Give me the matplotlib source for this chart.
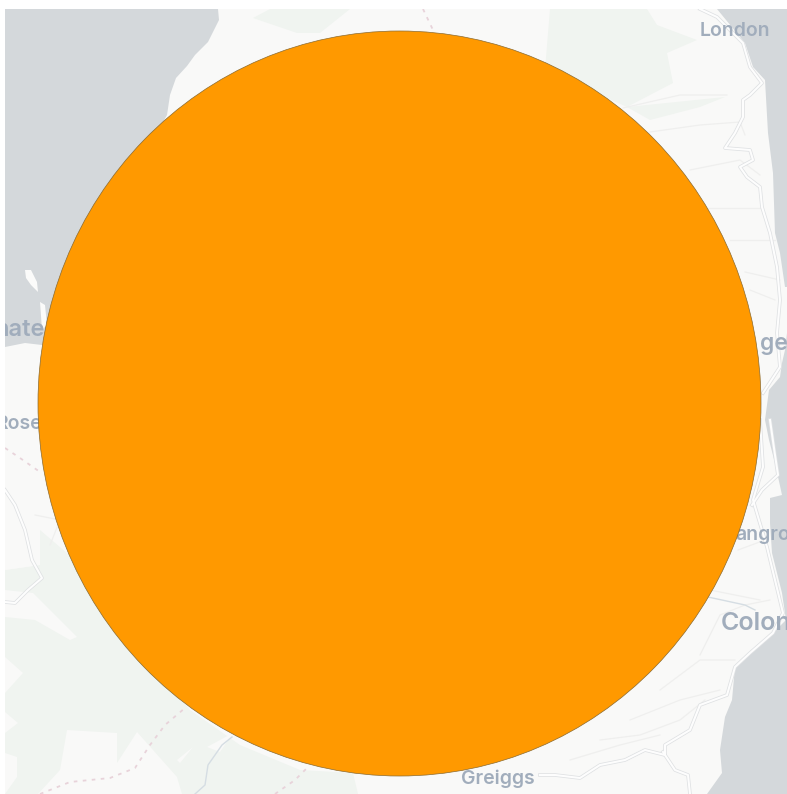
import matplotlib
matplotlib.use("Agg")
import matplotlib.pyplot as plt
from matplotlib.patches import Ellipse, Polygon

W, H = 787, 794
MAP_L, MAP_T = 5, 9

LAND = "#f9f9f8"
SEA = "#d4d8db"
GREEN = "#f0f4f0"
ORANGE = "#ff9900"
LABEL = "#a1adbc"
BORDER = "#e8d3da"

# Marker (reads as an ellipse in pixel space)
circle_center = (399.5, 403.5)
circle_width = 723
circle_height = 745

sea_left = [(5, 9), (218, 9), (219, 20), (208, 42), (195, 55), (187, 66), (176, 78), (170, 95), (167, 115),
            (120, 200), (60, 290), (42, 345), (25, 343), (5, 347)]
sea_right = [(717, 9), (787, 9), (787, 333), (785, 350), (782, 363), (780, 377), (769, 390), (765, 420),
             (769, 440), (775, 463), (782, 495), (770, 498), (770, 523), (772, 553), (782, 593), (786, 620),
             (773, 633), (750, 653), (735, 667), (732, 700), (725, 717), (720, 750), (722, 773), (707, 794),
             (787, 794), (787, 333), (787, 287), (785, 287), (780, 253), (775, 233), (773, 173), (768, 133),
             (765, 80), (753, 67), (745, 43)]
island_a = [(25, 270), (31, 270), (37, 282), (38, 292), (31, 285), (26, 278)]
island_b = [(40, 302), (45, 305), (47, 325), (42, 330)]

greens = [
    [(253, 18), (270, 9), (350, 9), (320, 33), (297, 33)],
    [(550, 9), (647, 9), (657, 25), (697, 40), (667, 53), (673, 83), (627, 107), (545, 70)],
    [(627, 107), (725, 97), (700, 107), (650, 120)],
    [(40, 530), (75, 560), (100, 600), (140, 650), (190, 710), (240, 745), (300, 770), (353, 773), (358, 794),
     (5, 794), (5, 617), (5, 570), (40, 565)],
]
pale = [
    [(33, 593), (77, 637), (70, 640), (35, 620), (5, 617), (5, 590)],
    [(5, 657), (23, 673), (5, 693)],
    [(5, 712), (18, 723), (5, 733)],
    [(5, 753), (17, 757), (17, 777), (5, 794)],
    [(67, 730), (117, 733), (117, 763), (137, 732), (177, 777), (182, 794), (38, 794), (60, 770)],
    [(177, 760), (193, 747), (180, 763)],
    [(207, 747), (233, 733), (220, 752)],
    [(5, 400), (60, 400), (60, 530), (40, 530), (40, 565), (5, 570)],
]

rivers = [
    [(700, 9), (717, 17), (743, 43), (750, 67), (762, 83), (750, 95), (743, 100), (743, 117), (735, 133), (725, 148),
     (750, 150), (753, 160), (740, 167), (747, 177), (760, 187), (762, 207), (770, 233), (777, 267), (780, 300),
     (777, 333), (780, 367), (763, 393)],
    [(760, 420), (763, 467), (753, 500), (767, 547), (783, 613), (773, 633), (750, 653), (735, 667), (727, 695),
     (700, 705), (690, 730), (665, 745), (665, 755), (645, 750), (625, 760), (600, 765), (580, 778), (555, 775), (540, 775)],
    [(770, 420), (775, 455), (778, 475), (762, 490), (752, 505)],
    [(663, 752), (675, 770), (688, 775), (690, 794)],
    [(5, 490), (15, 505), (25, 530), (32, 560), (42, 578), (28, 590), (15, 603), (5, 602)],
]
thin_lines = [
    [(623, 108), (680, 95), (727, 95)], [(650, 132), (700, 125), (740, 122), (745, 135)], [(690, 170), (740, 160), (760, 175)],
    [(705, 208), (760, 208)], [(730, 240), (775, 240)], [(745, 272), (780, 280)], [(750, 290), (775, 300)],
    [(700, 655), (720, 615), (745, 605), (770, 600)], [(660, 690), (700, 660), (735, 660)], [(630, 720), (680, 700), (720, 690)],
    [(600, 740), (640, 735), (680, 720), (705, 700)], [(570, 760), (620, 745), (660, 735)],
    [(710, 590), (760, 600)], [(738, 550), (765, 540)], [(35, 515), (60, 520), (50, 545)],
]
water_lines = [[(195, 794), (205, 785), (208, 765), (222, 745), (232, 737)], [(708, 597), (745, 605), (755, 610)]]
dashed_borders = [
    [(5, 448), (20, 458), (40, 472)],
    [(40, 794), (70, 782), (110, 778), (135, 768), (150, 745), (165, 725), (185, 708)],
    [(275, 794), (295, 780), (307, 768)],
    [(423, 9), (433, 30)],
]

place_names = ["London", "hate", "Rose", "ge", "angro", "Colon", "Greiggs"]
place_x = [770, 45, 42, 788, 790, 791, 535]
place_y = [31, 330, 424, 344, 535, 623, 779]
place_size = [14, 17, 14, 16.5, 14, 18, 14]

fig = plt.figure(figsize=(W / 100, H / 100), dpi=100, facecolor="white")
ax = fig.add_axes([MAP_L / W, 0, (W - MAP_L) / W, (H - MAP_T) / H])
ax.set_xlim(MAP_L, W)
ax.set_ylim(H, MAP_T)
ax.axis("off")
ax.add_patch(Polygon([(MAP_L, MAP_T), (W, MAP_T), (W, H), (MAP_L, H)], fc=LAND, ec="none", zorder=0))

for poly in greens:
    ax.add_patch(Polygon(poly, fc=GREEN, ec="none", zorder=1))
for poly in pale:
    ax.add_patch(Polygon(poly, fc=LAND, ec="none", zorder=1.5))
for poly in (sea_left, sea_right):
    ax.add_patch(Polygon(poly, fc=SEA, ec="none", zorder=2))
for poly in (island_a, island_b):
    ax.add_patch(Polygon(poly, fc="#fbfbfa", ec="none", zorder=3))

for line in thin_lines:
    xs, ys = zip(*line)
    ax.plot(xs, ys, color="#efefee", lw=0.9, zorder=3)
for line in rivers:
    xs, ys = zip(*line)
    ax.plot(xs, ys, color="#dfe1e3", lw=2.6, zorder=3.2)
    ax.plot(xs, ys, color="#fdfdfd", lw=1.5, zorder=3.3)
for line in water_lines:
    xs, ys = zip(*line)
    ax.plot(xs, ys, color="#d5dde3", lw=1.0, zorder=3.4)
for line in dashed_borders:
    xs, ys = zip(*line)
    ax.plot(xs, ys, color=BORDER, lw=1.3, ls=(0, (2, 3)), zorder=3.5)

for name, x, y, size in zip(place_names, place_x, place_y, place_size):
    ax.text(x, y, name, color=LABEL, fontsize=size, family=["Inter", "DejaVu Sans"], fontweight="semibold",
            ha="right", va="center", zorder=4, clip_on=True)

ax.add_patch(Ellipse(circle_center, circle_width, circle_height, fc=ORANGE, ec="#8a6a30", lw=0.5, zorder=5))

fig.savefig("out.png", dpi=100, facecolor="white")
